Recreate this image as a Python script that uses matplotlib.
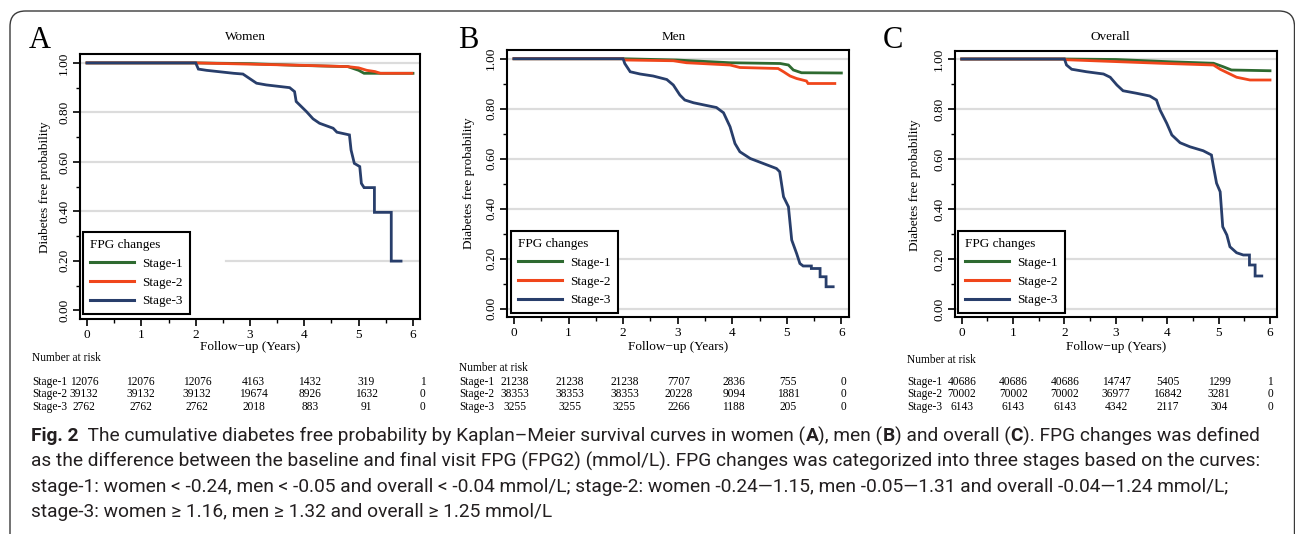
import matplotlib
matplotlib.use("Agg")
import matplotlib.pyplot as plt
from matplotlib.patches import FancyBboxPatch
from matplotlib.ticker import MultipleLocator, FormatStrFormatter

# ---------------- data ----------------
stages = ["Stage-1", "Stage-2", "Stage-3"]
colors = ["#2E6A30", "#F0461B", "#283E6B"]
panel_titles = ["Women", "Men", "Overall"]
panel_letters = ["A", "B", "C"]
risk_times = [0, 1, 2, 3, 4, 5, 6]

# Women
women_s1_t = [0, 2.0, 3.0, 3.9, 4.8, 5.0, 5.1, 6.0]
women_s1_p = [1.0, 1.0, 0.997, 0.99, 0.985, 0.97, 0.958, 0.958]
women_s2_t = [0, 2.0, 3.0, 4.0, 4.8, 5.0, 5.15, 5.3, 5.4, 5.98]
women_s2_p = [1.0, 1.0, 0.995, 0.99, 0.985, 0.98, 0.97, 0.965, 0.958, 0.958]
women_s3_t = [0, 2.0, 2.05, 2.2, 2.7, 2.87, 3.12, 3.3, 3.73, 3.82, 3.85, 4.04, 4.16,
              4.28, 4.53, 4.6, 4.83, 4.86, 4.92, 5.02, 5.05, 5.1, 5.29, 5.29, 5.60,
              5.60, 5.78]
women_s3_p = [1.0, 1.0, 0.975, 0.97, 0.958, 0.955, 0.918, 0.911, 0.90, 0.884, 0.844,
              0.803, 0.774, 0.756, 0.736, 0.72, 0.709, 0.648, 0.594, 0.581, 0.513,
              0.496, 0.496, 0.396, 0.396, 0.199, 0.199]

# Men
men_s1_t = [0, 2.0, 2.98, 3.96, 4.88, 5.03, 5.12, 5.27, 6.0]
men_s1_p = [1.0, 1.0, 0.995, 0.984, 0.981, 0.975, 0.955, 0.944, 0.943]
men_s2_t = [0, 2.0, 2.03, 2.92, 3.16, 3.96, 4.14, 4.84, 4.94, 5.06, 5.18, 5.36, 5.39, 5.88]
men_s2_p = [1.0, 1.0, 0.995, 0.992, 0.984, 0.975, 0.965, 0.961, 0.948, 0.931, 0.921,
            0.911, 0.901, 0.901]
men_s3_t = [0, 2.0, 2.03, 2.13, 2.31, 2.55, 2.80, 2.92, 3.04, 3.13, 3.29, 3.53, 3.71,
            3.84, 3.96, 4.05, 4.14, 4.33, 4.57, 4.81, 4.87, 4.94, 5.03, 5.09, 5.18,
            5.24, 5.30, 5.45, 5.45, 5.61, 5.61, 5.72, 5.72, 5.85]
men_s3_p = [1.0, 1.0, 0.981, 0.948, 0.939, 0.931, 0.917, 0.895, 0.855, 0.835, 0.824,
            0.813, 0.805, 0.784, 0.728, 0.661, 0.628, 0.601, 0.581, 0.561, 0.548,
            0.448, 0.408, 0.275, 0.221, 0.181, 0.171, 0.171, 0.161, 0.161, 0.128,
            0.128, 0.088, 0.088]

# Overall
all_s1_t = [0, 2.0, 3.0, 4.05, 4.90, 5.09, 5.25, 6.0]
all_s1_p = [1.0, 1.0, 0.998, 0.989, 0.983, 0.969, 0.956, 0.953]
all_s2_t = [0, 2.0, 2.04, 3.08, 3.86, 4.90, 5.03, 5.19, 5.35, 5.61, 6.0]
all_s2_p = [1.0, 1.0, 0.997, 0.989, 0.983, 0.976, 0.959, 0.943, 0.927, 0.916, 0.916]
all_s3_t = [0, 2.0, 2.04, 2.14, 2.43, 2.76, 2.89, 3.02, 3.14, 3.40, 3.66, 3.79, 3.86,
            3.99, 4.09, 4.25, 4.44, 4.70, 4.86, 4.90, 4.96, 5.03, 5.08, 5.16, 5.22,
            5.35, 5.48, 5.60, 5.60, 5.71, 5.71, 5.84]
all_s3_p = [1.0, 1.0, 0.976, 0.959, 0.949, 0.94, 0.927, 0.896, 0.873, 0.863, 0.852,
            0.836, 0.796, 0.743, 0.696, 0.665, 0.649, 0.633, 0.616, 0.569, 0.503,
            0.469, 0.329, 0.296, 0.249, 0.225, 0.216, 0.216, 0.176, 0.176, 0.132, 0.132]

# Number at risk
women_risk_s1 = [12076, 12076, 12076, 4163, 1432, 319, 1]
women_risk_s2 = [39132, 39132, 39132, 19674, 8926, 1632, 0]
women_risk_s3 = [2762, 2762, 2762, 2018, 883, 91, 0]
men_risk_s1 = [21238, 21238, 21238, 7707, 2836, 755, 0]
men_risk_s2 = [38353, 38353, 38353, 20228, 9094, 1881, 0]
men_risk_s3 = [3255, 3255, 3255, 2266, 1188, 205, 0]
all_risk_s1 = [40686, 40686, 40686, 14747, 5405, 1299, 1]
all_risk_s2 = [70002, 70002, 70002, 36977, 16842, 3281, 0]
all_risk_s3 = [6143, 6143, 6143, 4342, 2117, 304, 0]

curves = [
    [(women_s1_t, women_s1_p), (women_s2_t, women_s2_p), (women_s3_t, women_s3_p)],
    [(men_s1_t, men_s1_p), (men_s2_t, men_s2_p), (men_s3_t, men_s3_p)],
    [(all_s1_t, all_s1_p), (all_s2_t, all_s2_p), (all_s3_t, all_s3_p)],
]
risks = [
    [women_risk_s1, women_risk_s2, women_risk_s3],
    [men_risk_s1, men_risk_s2, men_risk_s3],
    [all_risk_s1, all_risk_s2, all_risk_s3],
]

caption_lines = [
    [("Fig. 2", "bold"), ("  The cumulative diabetes free probability by Kaplan\u2013Meier survival curves in women (", "normal"),
     ("A", "bold"), ("), men (", "normal"), ("B", "bold"), (") and overall (", "normal"), ("C", "bold"),
     ("). FPG changes was defined", "normal")],
    [("as the difference between the baseline and final visit FPG (FPG2) (mmol/L). FPG changes was categorized into three stages based on the curves:", "normal")],
    [("stage-1: women < -0.24, men < -0.05 and overall < -0.04 mmol/L; stage-2: women -0.24\u20141.15, men -0.05\u20141.31 and overall -0.04\u20141.24 mmol/L;", "normal")],
    [("stage-3: women \u2265 1.16, men \u2265 1.32 and overall \u2265 1.25 mmol/L", "normal")],
]

# ---------------- layout (pixels) ----------------
W, H = 1295, 534
SERIF = "Liberation Serif"

def fx(px):
    return px / W

def fy(py):
    return 1 - py / H

fig = plt.figure(figsize=(W / 100, H / 100), dpi=100)
fig.patch.set_facecolor("white")

# outer rounded border
border = FancyBboxPatch((fx(10), fy(560)), fx(1294.5) - fx(10), fy(11) - fy(560),
                        boxstyle="round,pad=0,rounding_size=0.012",
                        transform=fig.transFigure, fill=False, edgecolor="#3a3a3a",
                        linewidth=1.0, mutation_aspect=W / H)
fig.patches.append(border)

# axes boxes: left, right, top, bottom px ; xlim, ylim
axes_px = [(80, 420, 54, 319), (507, 849, 50, 317), (955, 1277, 51, 317)]
xlims = [(-0.129, 6.129), (-0.128, 6.14), (-0.13, 6.136)]
ylims = [(-0.035, 1.036), (-0.033, 1.035), (-0.032, 1.032)]
title_px = [(245, 37), (674, 37), (1110, 37)]
letter_px = [(40, 41), (468, 41), (893, 41)]
ylabel_px = [(45, 187), (469, 183), (915, 185)]
xlabel_y = 347
legend_px = [(83, 314), (511, 313), (958, 313)]
grid_start = [[0, 0.43, 0, 0, 0, 0], [0, 0, 0, 0, 0, 0], [0, 0, 0, 0, 0, 0]]
grid_levels = [[None, 0.2, 0.4, 0.6, 0.8, 1.0], [0.0, 0.2, 0.4, 0.6, 0.8, 1.0],
               [0.0, 0.2, 0.4, 0.6, 0.8, 1.0]]
nar_px = [(32, 358), (459, 368), (907, 360)]
row_label_x = [32, 459, 907]
row_y = [382, 394, 407]
col_start = [84, 515, 962]
col_step = [56.5, 54.7, 51.4]
TABLE_FS = 8.3

for i in range(3):
    l, r, t, b = axes_px[i]
    ax = fig.add_axes([fx(l), fy(b), fx(r) - fx(l), fy(t) - fy(b)])
    ax.set_xlim(*xlims[i])
    ax.set_ylim(*ylims[i])
    for lev, xs in zip(grid_levels[i], grid_start[i]):
        if lev is None:
            continue
        ax.axhline(lev, xmin=xs, xmax=1, color="#dcdcdc", lw=1.6, zorder=0)
    for (tt, pp), c, s in zip(curves[i], colors, stages):
        ax.plot(tt, pp, color=c, lw=2.0, label=s, solid_joinstyle="miter", zorder=2)
    for sp in ax.spines.values():
        sp.set_linewidth(1.5)
        sp.set_color("black")
    ax.xaxis.set_major_locator(MultipleLocator(1))
    ax.xaxis.set_minor_locator(MultipleLocator(0.5))
    ax.yaxis.set_major_locator(MultipleLocator(0.2))
    ax.yaxis.set_minor_locator(MultipleLocator(0.1))
    ax.yaxis.set_major_formatter(FormatStrFormatter("%.2f"))
    ax.tick_params(which="major", length=5, width=1.2, direction="out", labelsize=9.5,
                   pad=2)
    ax.tick_params(which="minor", length=3, width=1.0, direction="out")
    ax.tick_params(axis="y", labelrotation=90)
    for lab in ax.get_yticklabels():
        lab.set_va("center")
        lab.set_family(SERIF)
    for lab in ax.get_xticklabels():
        lab.set_family(SERIF)
    leg = ax.legend(loc="lower left",
                    bbox_to_anchor=((legend_px[i][0] - l) / (r - l), (b - legend_px[i][1]) / (b - t)),
                    borderaxespad=0, title="FPG changes", alignment="left",
                    prop={"family": SERIF, "size": 9.5}, fancybox=False, framealpha=1,
                    edgecolor="black", handlelength=3.4, handletextpad=0.6,
                    labelspacing=0.5, borderpad=0.5)
    leg.get_title().set_family(SERIF)
    leg.get_title().set_fontsize(9.5)
    leg.get_frame().set_linewidth(1.5)
    for ln in leg.get_lines():
        ln.set_linewidth(2.2)

    fig.text(fx(title_px[i][0]), fy(title_px[i][1]), panel_titles[i], family=SERIF,
             fontsize=9.5, ha="center", va="center")
    fig.text(fx(letter_px[i][0]), fy(letter_px[i][1]), panel_letters[i], family=SERIF,
             fontsize=22, ha="center", va="center")
    fig.text(fx(ylabel_px[i][0]), fy(ylabel_px[i][1]), "Diabetes free probability",
             family=SERIF, fontsize=9.5, ha="center", va="center", rotation=90)
    fig.text(fx((l + r) / 2), fy(xlabel_y), "Follow\u2212up (Years)", family=SERIF,
             fontsize=9.5, ha="center", va="center")
    fig.text(fx(nar_px[i][0]), fy(nar_px[i][1]), "Number at risk", family=SERIF,
             fontsize=TABLE_FS, ha="left", va="center")
    for k in range(3):
        fig.text(fx(row_label_x[i]), fy(row_y[k]), stages[k], family=SERIF, fontsize=TABLE_FS,
                 ha="left", va="center")
        for j, tm in enumerate(risk_times):
            fig.text(fx(col_start[i] + col_step[i] * tm), fy(row_y[k]), str(risks[i][k][j]),
                     family=SERIF, fontsize=TABLE_FS, ha="center", va="center")

# ---------------- caption ----------------
renderer = fig.canvas.get_renderer()
CAP_FONT = "Roboto"
cap_x0 = 31
cap_y = [436, 461, 487, 512]
target_w = 1255 - cap_x0

def draw_caption(size):
    arts = []
    widths = []
    for line, yy in zip(caption_lines, cap_y):
        x = fx(cap_x0)
        for txt, wt in line:
            tt = fig.text(x, fy(yy), txt, family=CAP_FONT, fontsize=size, weight=wt,
                          ha="left", va="center", color="#231f20")
            bb = tt.get_window_extent(renderer=renderer)
            x = bb.x1 / (W)
            arts.append(tt)
        widths.append(x * W - cap_x0)
    return arts, widths

arts, widths = draw_caption(12)
scale = target_w / widths[0]
for a in arts:
    a.remove()
draw_caption(12 * scale)

fig.savefig("out.png", dpi=100)
